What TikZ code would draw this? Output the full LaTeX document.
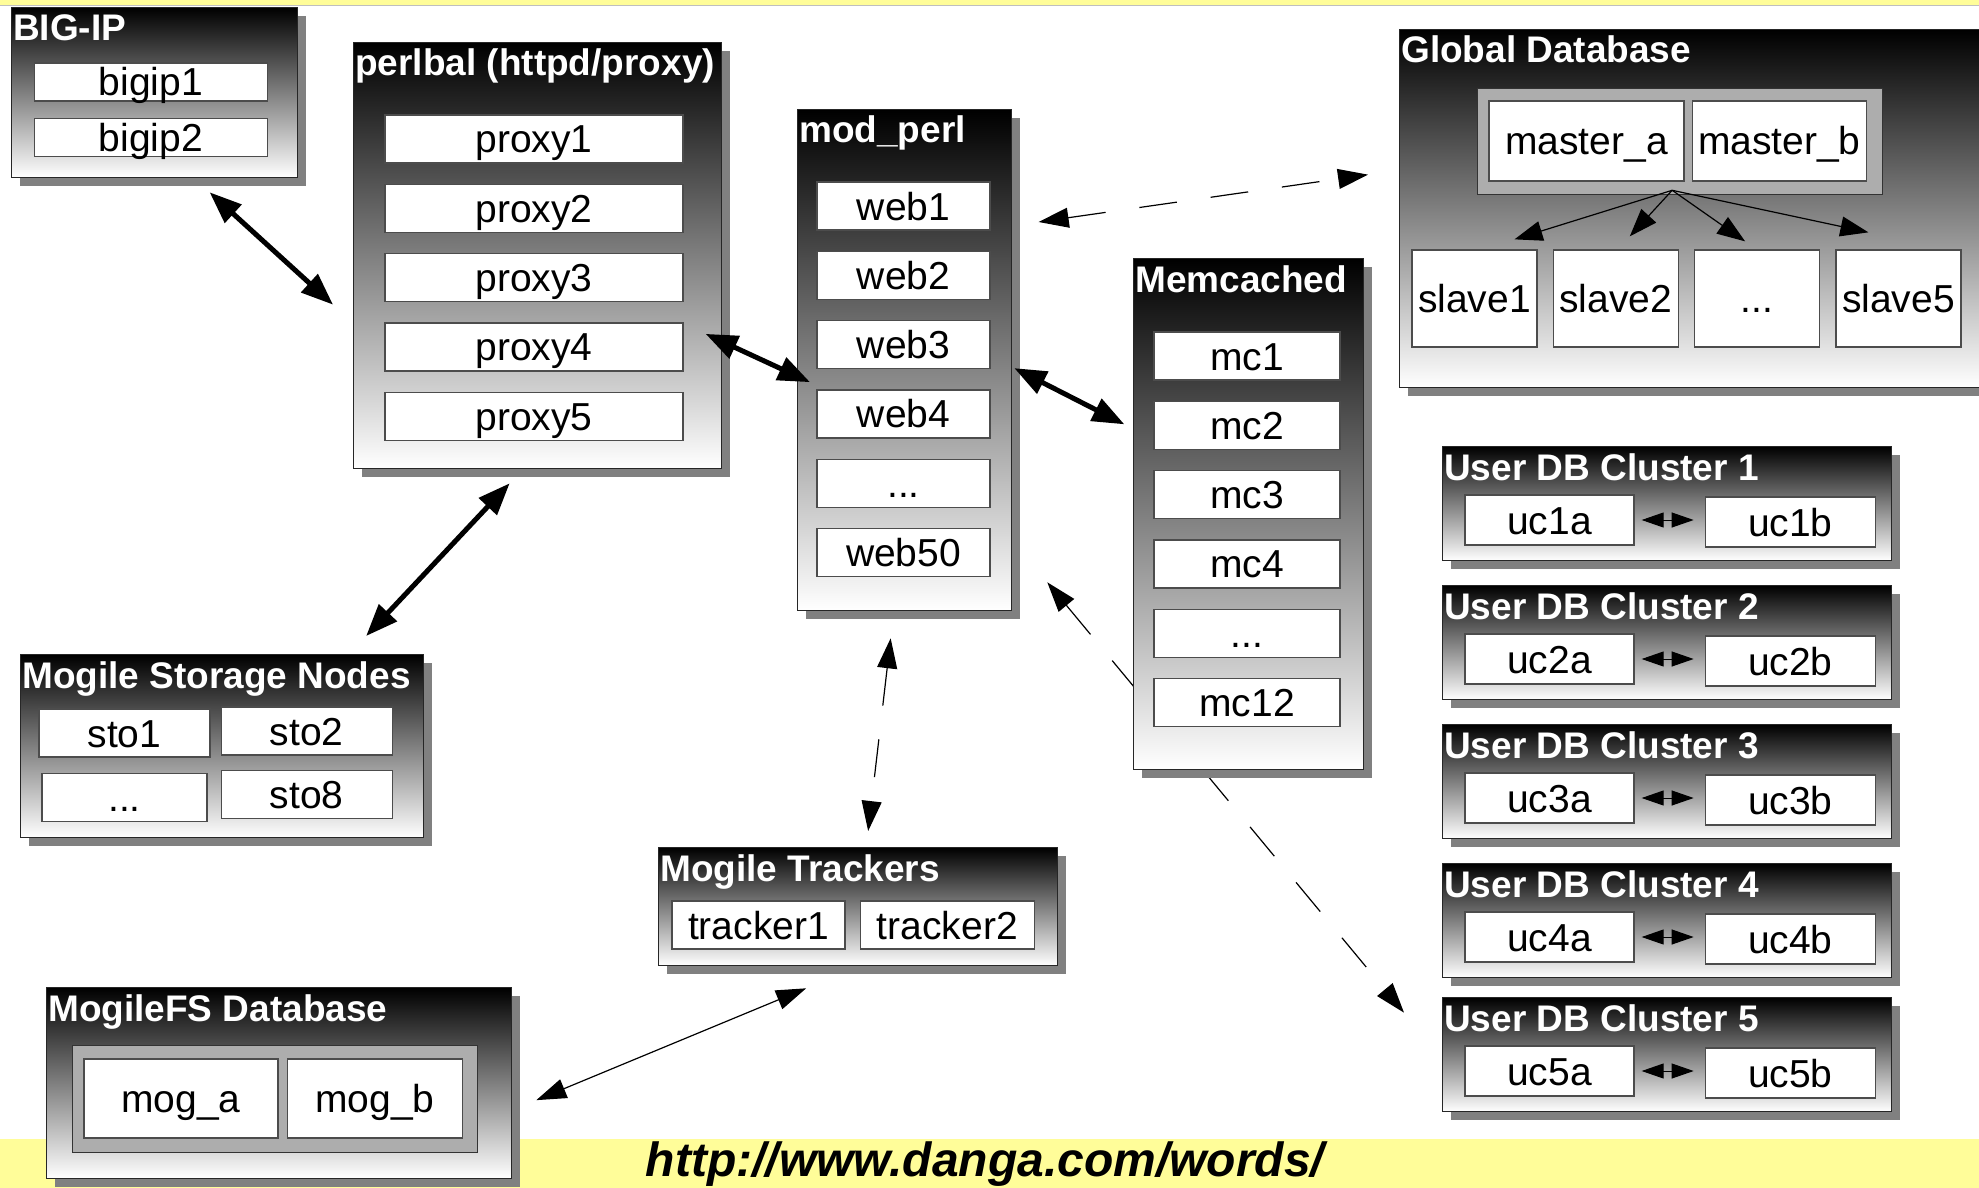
\documentclass[tikz,border=0pt]{standalone}
\usepackage{fontspec}
\setmainfont{Liberation Sans}
\usepackage{tikz}
\usetikzlibrary{arrows.meta,positioning,shadows}
\usepackage{xcolor}
\definecolor{bandyellow}{HTML}{FFFD99}
\newcommand{\memberfont}{\fontsize{39pt}{44pt}\selectfont}
\newcommand{\grpfont}{\bfseries\fontsize{37pt}{42pt}\selectfont}
\newcommand{\linkfont}{\bfseries\itshape\fontsize{48pt}{54pt}\selectfont}
\pgfdeclarelayer{background}
\pgfsetlayers{background,main}

\begin{document}
\begin{tikzpicture}[x=1pt,y=-1pt,
	grp/.style={draw=black!85,line width=1.3pt,top color=black,bottom color=white,anchor=north west,inner sep=0pt,
		drop shadow={shadow xshift=8pt,shadow yshift=-8pt,fill=black!50,opacity=1}},
	tray/.style={draw=black!80,fill=black!32,line width=1.3pt,anchor=north west,inner sep=0pt},
	member/.style={draw=black!70,fill=white,line width=1.3pt,inner sep=0pt,minimum height=48pt,
		text height=28pt,text depth=0pt,font=\memberfont},
	grptitle/.style={anchor=base west,inner sep=0pt,text=white,font=\grpfont},
	heavy/.style={{Triangle[length=32pt,width=24pt]}-{Triangle[length=32pt,width=24pt]},line width=5pt},
	thinlink/.style={{Triangle[length=30pt,width=20pt]}-{Triangle[length=30pt,width=20pt]},line width=1.2pt},
	dashlink/.style={thinlink,dash pattern=on 38pt off 34pt},
	fanlink/.style={-{Triangle[length=28pt,width=20pt]},line width=1.2pt},
	pairlink/.style={{Triangle[length=22pt,width=15pt]}-{Triangle[length=22pt,width=15pt]},line width=1pt}]

	\useasboundingbox (0,0) rectangle (1979,1188);
	\begin{pgfonlayer}{background}
		\fill[white] (0,0) rectangle (1979,1188);
		\fill[bandyellow] (0,0) rectangle (1979,6);
		\draw[black!25,line width=1pt] (0,6) -- (1979,6);
		\fill[bandyellow] (0,1139) rectangle (1979,1188);
	\end{pgfonlayer}

	% load balancer
	\node[grp,minimum width=286pt,minimum height=170pt] (bigip) at (11,7) {};
	\node[grptitle] (bigiptitle) at ([shift={(2,34)}]bigip.north west) {BIG-IP};
	\node[member,minimum width=233pt,minimum height=38pt] (bigip1) at (151,82) {bigip1};
	\node[member,minimum width=233pt,minimum height=38pt,below=16pt of bigip1] (bigip2) {bigip2};

	% perlbal
	\node[grp,minimum width=368pt,minimum height=426pt] (perlbal) at (353,42) {};
	\node[grptitle] (perlbaltitle) at ([shift={(2,34)}]perlbal.north west) {perlbal (httpd/proxy)};
	\node[member,minimum width=298pt] (proxy1) at (534,139) {proxy1};
	\node[member,minimum width=298pt,below=20pt of proxy1] (proxy2) {proxy2};
	\node[member,minimum width=298pt,below=20pt of proxy2] (proxy3) {proxy3};
	\node[member,minimum width=298pt,below=20pt of proxy3] (proxy4) {proxy4};
	\node[member,minimum width=298pt,below=20pt of proxy4] (proxy5) {proxy5};

	% mod_perl
	\node[grp,minimum width=214pt,minimum height=501pt] (modperl) at (797,109) {};
	\node[grptitle] (modperltitle) at ([shift={(2,34)}]modperl.north west) {mod\_perl};
	\node[member,minimum width=173pt] (web1) at (903.5,206) {web1};
	\node[member,minimum width=173pt,below=20pt of web1] (web2) {web2};
	\node[member,minimum width=173pt,below=20pt of web2] (web3) {web3};
	\node[member,minimum width=173pt,below=20pt of web3] (web4) {web4};
	\node[member,minimum width=173pt,below=20pt of web4] (webdots) {...};
	\node[member,minimum width=173pt,below=20pt of webdots] (web50) {web50};

	% memcached
	\node[grp,minimum width=230pt,minimum height=511pt] (memcached) at (1133,258) {};
	\node[grptitle] (memcachedtitle) at ([shift={(2,34)}]memcached.north west) {Memcached};
	\node[member,minimum width=186pt] (mc1) at (1247,356) {mc1};
	\node[member,minimum width=186pt,below=20pt of mc1] (mc2) {mc2};
	\node[member,minimum width=186pt,below=20pt of mc2] (mc3) {mc3};
	\node[member,minimum width=186pt,below=20pt of mc3] (mc4) {mc4};
	\node[member,minimum width=186pt,below=20pt of mc4] (mcdots) {...};
	\node[member,minimum width=186pt,below=20pt of mcdots] (mc12) {mc12};

	% global database
	\node[grp,minimum width=600pt,minimum height=358pt] (globaldb) at (1399,29) {};
	\node[grptitle] (globaldbtitle) at ([shift={(2,34)}]globaldb.north west) {Global Database};
	\node[tray,minimum width=405pt,minimum height=106pt] (masters) at (1477,88) {};
	\node[member,minimum width=195pt,minimum height=80pt] (mastera) at (1586.5,141) {master\_a};
	\node[member,minimum width=174pt,minimum height=80pt,right=7pt of mastera] (masterb) {master\_b};
	\node[member,minimum width=125pt,minimum height=97pt] (slave1) at (1474.5,298.5) {slave1};
	\node[member,minimum width=125pt,minimum height=97pt,right=15pt of slave1] (slave2) {slave2};
	\node[member,minimum width=125pt,minimum height=97pt,right=15pt of slave2] (slavedots) {...};
	\node[member,minimum width=125pt,minimum height=97pt,right=15pt of slavedots] (slave5) {slave5};
	\coordinate (fanout) at ([shift={(-8,-5)}]masters.south);

	% mogile storage
	\node[grp,minimum width=403pt,minimum height=183pt] (mogstore) at (20,654) {};
	\node[grptitle] (mogstoretitle) at ([shift={(2,34)}]mogstore.north west) {Mogile Storage Nodes};
	\node[member,minimum width=171pt] (sto1) at (124.5,733) {sto1};
	\node[member,minimum width=171pt,right=10pt of sto1,yshift=2pt] (sto2) {sto2};
	\node[member,minimum width=165pt,below=15pt of sto1] (stodots) {...};
	\node[member,minimum width=171pt,below=14pt of sto2] (sto8) {sto8};

	% trackers
	\node[grp,minimum width=399pt,minimum height=118pt] (trackers) at (658,847) {};
	\node[grptitle] (trackerstitle) at ([shift={(2,34)}]trackers.north west) {Mogile Trackers};
	\node[member,minimum width=173pt] (tracker1) at (758.5,925) {tracker1};
	\node[member,minimum width=174pt,right=14pt of tracker1] (tracker2) {tracker2};

	% mogilefs database
	\node[grp,minimum width=465pt,minimum height=191pt] (mogfsdb) at (46,987) {};
	\node[grptitle] (mogfsdbtitle) at ([shift={(2,34)}]mogfsdb.north west) {MogileFS Database};
	\node[tray,minimum width=405pt,minimum height=107pt] (mogtray) at (72,1045) {};
	\node[member,minimum width=194pt,minimum height=79pt] (moga) at (181,1098.5) {mog\_a};
	\node[member,minimum width=175pt,minimum height=79pt,right=8pt of moga] (mogb) {mog\_b};

	% user db clusters
	\node[grp,minimum width=449pt,minimum height=114pt] (uc1) at (1442,446) {};
	\node[grptitle] (uc1title) at ([shift={(2,34)}]uc1.north west) {User DB Cluster 1};
	\node[member,minimum width=169pt,minimum height=50pt] (uc1a) at (1549.5,520) {uc1a};
	\node[member,minimum width=170pt,minimum height=50pt,right=70pt of uc1a,yshift=-2pt] (uc1b) {uc1b};

	\node[grp,minimum width=449pt,minimum height=114pt] (uc2) at (1442,585) {};
	\node[grptitle] (uc2title) at ([shift={(2,34)}]uc2.north west) {User DB Cluster 2};
	\node[member,minimum width=169pt,minimum height=50pt] (uc2a) at (1549.5,659) {uc2a};
	\node[member,minimum width=170pt,minimum height=50pt,right=70pt of uc2a,yshift=-2pt] (uc2b) {uc2b};

	\node[grp,minimum width=449pt,minimum height=114pt] (uc3) at (1442,724) {};
	\node[grptitle] (uc3title) at ([shift={(2,34)}]uc3.north west) {User DB Cluster 3};
	\node[member,minimum width=169pt,minimum height=50pt] (uc3a) at (1549.5,798) {uc3a};
	\node[member,minimum width=170pt,minimum height=50pt,right=70pt of uc3a,yshift=-2pt] (uc3b) {uc3b};

	\node[grp,minimum width=449pt,minimum height=114pt] (uc4) at (1442,863) {};
	\node[grptitle] (uc4title) at ([shift={(2,34)}]uc4.north west) {User DB Cluster 4};
	\node[member,minimum width=169pt,minimum height=50pt] (uc4a) at (1549.5,937) {uc4a};
	\node[member,minimum width=170pt,minimum height=50pt,right=70pt of uc4a,yshift=-2pt] (uc4b) {uc4b};

	\node[grp,minimum width=449pt,minimum height=114pt] (uc5) at (1442,997) {};
	\node[grptitle] (uc5title) at ([shift={(2,34)}]uc5.north west) {User DB Cluster 5};
	\node[member,minimum width=169pt,minimum height=50pt] (uc5a) at (1549.5,1071) {uc5a};
	\node[member,minimum width=170pt,minimum height=50pt,right=70pt of uc5a,yshift=-2pt] (uc5b) {uc5b};

	\node[anchor=base,inner sep=0pt,font=\linkfont] (url) at (985,1176) {http://www.danga.com/words/};

	% connectors
	\draw[heavy] ([shift={(55,14)}]bigip.south) -- ([shift={(-20,49)}]perlbal.west);
	\draw[heavy] ([shift={(22,-13)}]proxy4.east) -- ([shift={(13,22)}]modperl.west);
	\draw[heavy] ([shift={(2,8)}]modperl.east) -- ([shift={(-29,-1)}]mc2.west);
	\draw[heavy] ([shift={(-28,14)}]perlbal.south) -- ([shift={(144,-18)}]mogstore.north);
	\draw[dashlink] ([shift={(48,16)}]web1.east) -- ([shift={(-31,-34)}]globaldb.west);
	\draw[dashlink] ([shift={(-14,27)}]modperl.south) -- ([shift={(10,-16)}]trackers.north);
	\draw[thinlink] ([shift={(-52,22)}]trackers.south) -- ([shift={(24,17)}]mogfsdb.east);
	\begin{pgfonlayer}{background}
		\draw[dashlink] ([shift={(35,-29)}]modperl.south east) -- ([shift={(-38,-42)}]uc5.west);
	\end{pgfonlayer}

	\draw[fanlink] (fanout) -- ([shift={(40,-10)}]slave1.north);
	\draw[fanlink] (fanout) -- ([shift={(14,-13)}]slave2.north);
	\draw[fanlink] (fanout) -- ([shift={(-12,-8)}]slavedots.north);
	\draw[fanlink] (fanout) -- ([shift={(-30,-17)}]slave5.north);

	\draw[pairlink] ([xshift=7pt]uc1a.east) -- ([xshift=-11pt,yshift=2pt]uc1b.west);
	\draw[pairlink] ([xshift=7pt]uc2a.east) -- ([xshift=-11pt,yshift=2pt]uc2b.west);
	\draw[pairlink] ([xshift=7pt]uc3a.east) -- ([xshift=-11pt,yshift=2pt]uc3b.west);
	\draw[pairlink] ([xshift=7pt]uc4a.east) -- ([xshift=-11pt,yshift=2pt]uc4b.west);
	\draw[pairlink] ([xshift=7pt]uc5a.east) -- ([xshift=-11pt,yshift=2pt]uc5b.west);
\end{tikzpicture}
\end{document}
